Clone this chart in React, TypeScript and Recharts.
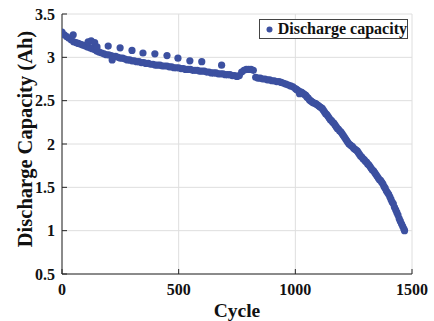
import React from 'react';
import { ScatterChart, Scatter, XAxis, YAxis, CartesianGrid, Legend, Label } from 'recharts';

// capacity read every 10 cycles, cycles 0..990
const COARSE_STEP = 10;
const coarseCapacity = [
  3.29, 3.26, 3.24, 3.22, 3.2, 3.18, 3.17, 3.16, 3.15, 3.14,
  3.13, 3.12, 3.11, 3.1, 3.09, 3.07, 3.06, 3.05, 3.04, 3.03,
  3.03, 3.02, 3.01, 3.01, 3.0, 2.99, 2.99, 2.98, 2.97, 2.97,
  2.96, 2.96, 2.95, 2.95, 2.94, 2.94, 2.93, 2.93, 2.92, 2.92,
  2.91, 2.91, 2.91, 2.9, 2.9, 2.9, 2.89, 2.89, 2.88, 2.88,
  2.88, 2.87, 2.87, 2.86, 2.86, 2.86, 2.85, 2.85, 2.85, 2.84,
  2.84, 2.84, 2.83, 2.83, 2.82, 2.82, 2.82, 2.81, 2.81, 2.81,
  2.8, 2.8, 2.8, 2.79, 2.79, 2.78, 2.79, 2.83, 2.85, 2.86,
  2.86, 2.86, 2.85, 2.77, 2.76, 2.76, 2.75, 2.75, 2.74, 2.74,
  2.73, 2.73, 2.72, 2.72, 2.71, 2.7, 2.69, 2.68, 2.67, 2.66,
];

// steeper part read every 5 cycles, cycles 1000..1465
const FINE_START = 1000;
const FINE_STEP = 5;
const fineCapacity = [
  2.64, 2.63, 2.62, 2.61, 2.6, 2.6, 2.59, 2.58, 2.57, 2.56,
  2.54, 2.53, 2.51, 2.5, 2.49, 2.48, 2.47, 2.47, 2.46, 2.45,
  2.44, 2.43, 2.42, 2.41, 2.39, 2.37, 2.35, 2.34, 2.32, 2.3,
  2.28, 2.27, 2.25, 2.24, 2.22, 2.2, 2.18, 2.17, 2.15, 2.14,
  2.12, 2.1, 2.08, 2.06, 2.04, 2.02, 2.0, 1.99, 1.98, 1.97,
  1.95, 1.94, 1.93, 1.92, 1.9, 1.88, 1.86, 1.85, 1.83, 1.82,
  1.8, 1.79, 1.77, 1.76, 1.74, 1.72, 1.7, 1.69, 1.67, 1.65,
  1.63, 1.61, 1.59, 1.58, 1.56, 1.54, 1.51, 1.49, 1.46, 1.44,
  1.42, 1.39, 1.36, 1.33, 1.31, 1.27, 1.24, 1.21, 1.18, 1.14,
  1.11, 1.08, 1.05, 1.02,
];

// scattered points off the main band
const extraCycles = [48, 112, 125, 140, 150, 215, 198, 249, 300, 347, 398, 450, 497, 548, 599, 684, 1018, 1468];
const extraCapacity = [3.26, 3.18, 3.19, 3.17, 3.12, 2.97, 3.13, 3.11, 3.08, 3.05, 3.04, 3.02, 2.99, 2.96, 2.95, 2.91, 2.58, 1.0];

const xTicks = [0, 500, 1000, 1500];
const yTicks = [0.5, 1, 1.5, 2, 2.5, 3, 3.5];

const data = [
  ...coarseCapacity.map((c, i) => ({ cycle: i * COARSE_STEP, capacity: c })),
  ...fineCapacity.map((c, i) => ({ cycle: FINE_START + i * FINE_STEP, capacity: c })),
  ...extraCycles.map((x, i) => ({ cycle: x, capacity: extraCapacity[i] })),
];

const BLUE = '#3c50a0';
const AXIS = '#262626';
const FONT = '"Liberation Serif", "Times New Roman", serif';

const tickStyle = { fontFamily: FONT, fontWeight: 'bold', fontSize: 16, fill: '#111' };

const Dot = (props: any) => <circle cx={props.cx} cy={props.cy} r={3.6} fill={BLUE} />;

const LegendBox = () => (
  <div
    style={{
      border: '1px solid #444',
      background: '#fff',
      height: 18,
      width: 147,
      display: 'flex',
      alignItems: 'center',
      fontFamily: FONT,
      fontWeight: 'bold',
      fontSize: 16,
      color: '#111',
      boxSizing: 'content-box',
    }}
  >
    <svg width={19} height={18}>
      <circle cx={9.5} cy={9.5} r={3} fill={BLUE} />
    </svg>
    <span style={{ whiteSpace: 'nowrap' }}>Discharge capacity</span>
  </div>
);

export default function App() {
  return (
    <div style={{ position: 'absolute', left: 0, top: 0, background: '#fff' }}>
      <ScatterChart width={434} height={321} margin={{ top: 14, right: 22, bottom: 0, left: 0 }}>
        <CartesianGrid stroke="#dedede" strokeWidth={1} />
        <XAxis
          dataKey="cycle"
          type="number"
          domain={[0, 1500]}
          ticks={xTicks}
          height={47}
          tickSize={-5}
          tickMargin={15}
          stroke={AXIS}
          tick={tickStyle}
          allowDataOverflow
        >
          <Label
            content={({ viewBox }: any) => (
              <text
                x={viewBox.x + viewBox.width / 2}
                y={viewBox.y + 43}
                textAnchor="middle"
                style={{ fontFamily: FONT, fontWeight: 'bold', fontSize: 19.5, fill: '#111' }}
              >
                Cycle
              </text>
            )}
          />
        </XAxis>
        <XAxis
          xAxisId="top"
          orientation="top"
          type="number"
          domain={[0, 1500]}
          ticks={xTicks}
          height={0}
          tickSize={-5}
          tick={false}
          stroke={AXIS}
        />
        <YAxis
          dataKey="capacity"
          type="number"
          domain={[0.5, 3.5]}
          ticks={yTicks}
          width={62}
          tickSize={-5}
          tickMargin={12}
          stroke={AXIS}
          tick={tickStyle}
          allowDataOverflow
        >
          <Label
            content={({ viewBox }: any) => {
              const x = viewBox.x + 32;
              const y = viewBox.y + viewBox.height / 2 - 5;
              return (
                <text
                  x={x}
                  y={y}
                  textAnchor="middle"
                  transform={`rotate(-90, ${x}, ${y})`}
                  style={{ fontFamily: FONT, fontWeight: 'bold', fontSize: 20.5, fill: '#111' }}
                >
                  Discharge Capacity (Ah)
                </text>
              );
            }}
          />
        </YAxis>
        <YAxis
          yAxisId="right"
          orientation="right"
          type="number"
          domain={[0.5, 3.5]}
          ticks={yTicks}
          width={0}
          tickSize={-5}
          tick={false}
          stroke={AXIS}
        />
        <Legend
          layout="horizontal"
          verticalAlign="middle"
          align="center"
          content={<LegendBox />}
          wrapperStyle={{ position: 'absolute', top: 19, left: 259, width: 'auto', height: 'auto' }}
        />
        <Scatter
          name="Discharge capacity"
          data={data}
          fill={BLUE}
          shape={<Dot />}
          isAnimationActive={false}
        />
      </ScatterChart>
    </div>
  );
}
